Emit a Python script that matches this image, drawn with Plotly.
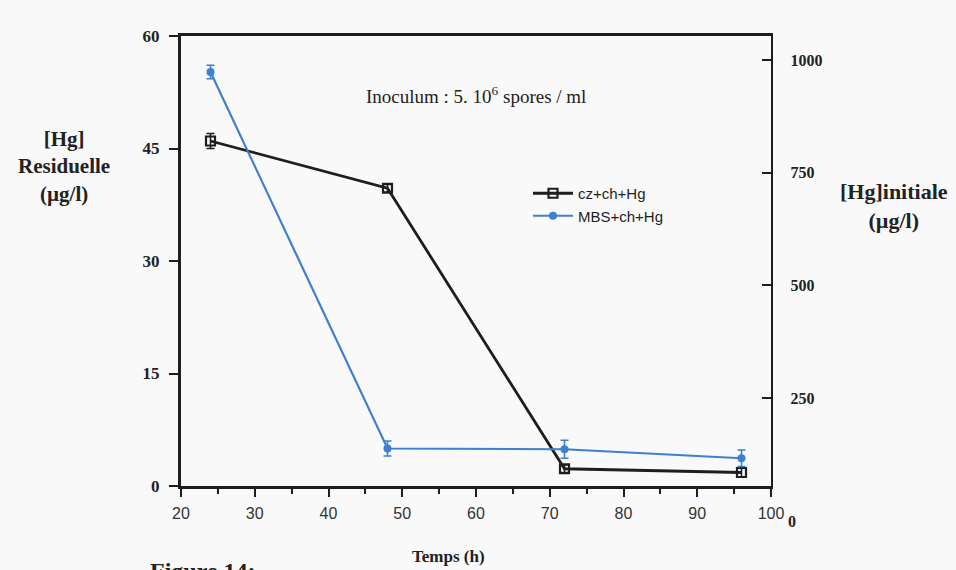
import plotly.graph_objects as go

# Sampling times (h)
temps = [24, 48, 72, 96]

# Residual mercury (µg/l) and standard deviations
cz_hg = [46.0, 39.7, 2.3, 1.8]
cz_err = [1.0, 0.5, 0.5, 0.6]
mbs_hg = [55.2, 5.0, 4.9, 3.7]
mbs_err = [0.9, 1.0, 1.2, 1.1]

series_names = ["cz+ch+Hg", "MBS+ch+Hg"]

# Axis ticks
x_ticks = [20, 30, 40, 50, 60, 70, 80, 90, 100]
y_ticks = [0, 15, 30, 45, 60]
y2_ticks = [250, 500, 750, 1000]

BLACK = "#1e1e1e"
BLUE = "#3f7fcf"
SERIF = "Liberation Serif, Times New Roman, serif"
SANS = "Liberation Sans, Arial, sans-serif"

fig = go.Figure()

fig.add_trace(go.Scatter(
    x=temps, y=cz_hg, name=series_names[0], mode="lines+markers",
    line=dict(color=BLACK, width=2.8),
    marker=dict(symbol="square-open", size=9, color=BLACK, line=dict(width=2.2, color=BLACK)),
    error_y=dict(type="data", array=cz_err, color=BLACK, thickness=1.6, width=4),
))
fig.add_trace(go.Scatter(
    x=temps, y=mbs_hg, name=series_names[1], mode="lines+markers",
    line=dict(color=BLUE, width=2.2),
    marker=dict(symbol="circle", size=8, color=BLUE),
    error_y=dict(type="data", array=mbs_err, color=BLUE, thickness=1.6, width=4),
))
# empty trace so the right-hand [Hg]initiale axis is drawn
fig.add_trace(go.Scatter(x=[None], y=[None], yaxis="y2", showlegend=False,
                         hoverinfo="skip", mode="lines"))

fig.update_layout(
    width=956, height=570,
    margin=dict(l=181, r=185, t=36, b=84),
    paper_bgcolor="#f9f9f9", plot_bgcolor="rgba(0,0,0,0)",
    showlegend=True,
    legend=dict(
        x=(528 - 181) / 590, y=(486 - 177) / 450, xanchor="left", yanchor="top",
        bgcolor="rgba(0,0,0,0)", font=dict(family=SANS, size=15, color=BLACK),
        tracegroupgap=2, itemwidth=40,
    ),
    xaxis=dict(
        range=[20, 100], tickvals=x_ticks, ticks="outside", ticklen=8, tickwidth=2,
        tickcolor=BLACK, showline=True, linecolor=BLACK, linewidth=2.6, mirror=True,
        showgrid=False, zeroline=False, ticklabelstandoff=3,
        tickfont=dict(family=SANS, size=16, color="#333333"),
        minor=dict(tickvals=[25, 35, 45, 55, 65, 75, 85, 95], ticks="outside",
                   ticklen=5, tickwidth=2, tickcolor=BLACK),
    ),
    yaxis=dict(
        range=[0, 60], tickvals=y_ticks, ticks="outside", ticklen=9, tickwidth=2,
        tickcolor=BLACK, showline=True, linecolor=BLACK, linewidth=3,
        showgrid=False, zeroline=False, ticklabelstandoff=6,
        tickfont=dict(family=SERIF, size=17, color="#222222", weight="bold"),
    ),
    yaxis2=dict(
        overlaying="y", side="right", range=[55, 1053], tickvals=y2_ticks,
        ticks="inside", ticklen=9, tickwidth=2, tickcolor=BLACK,
        showline=True, linecolor=BLACK, linewidth=2.4, showgrid=False, zeroline=False,
        ticklabelstandoff=14,
        tickfont=dict(family=SERIF, size=16, color="#222222", weight="bold"),
    ),
)

def px_x(px):
    return (px - 181) / 590

def px_y(py):
    return (486 - py) / 450

notes = [
    dict(text="<b>[Hg]<br>Residuelle<br>(µg/l)</b>", x=px_x(64), y=px_y(166),
         font=dict(family=SERIF, size=21, color="#222222"), align="center"),
    dict(text="<b>[Hg]initiale<br>(µg/l)</b>", x=px_x(894), y=px_y(206),
         font=dict(family=SERIF, size=22, color="#222222"), align="center"),
    dict(text="Inoculum : 5. 10<sup>6</sup> spores / ml", x=px_x(476), y=px_y(95),
         font=dict(family=SERIF, size=19, color="#222222")),
    dict(text="<b>Temps (h)</b>", x=px_x(448), y=px_y(556),
         font=dict(family=SERIF, size=17, color="#222222")),
    dict(text="<b>0</b>", x=px_x(792), y=px_y(521),
         font=dict(family=SERIF, size=16, color="#222222")),
]
for n in notes:
    fig.add_annotation(xref="paper", yref="paper", showarrow=False,
                       xanchor="center", yanchor="middle", **n)

# caption line below the chart, running off the bottom edge
fig.add_annotation(xref="paper", yref="paper", showarrow=False,
                   text="<b>Figure 14:</b>", x=px_x(148), y=px_y(556),
                   xanchor="left", yanchor="top",
                   font=dict(family=SERIF, size=24, color="#222222"))

fig.write_html("out.html")
